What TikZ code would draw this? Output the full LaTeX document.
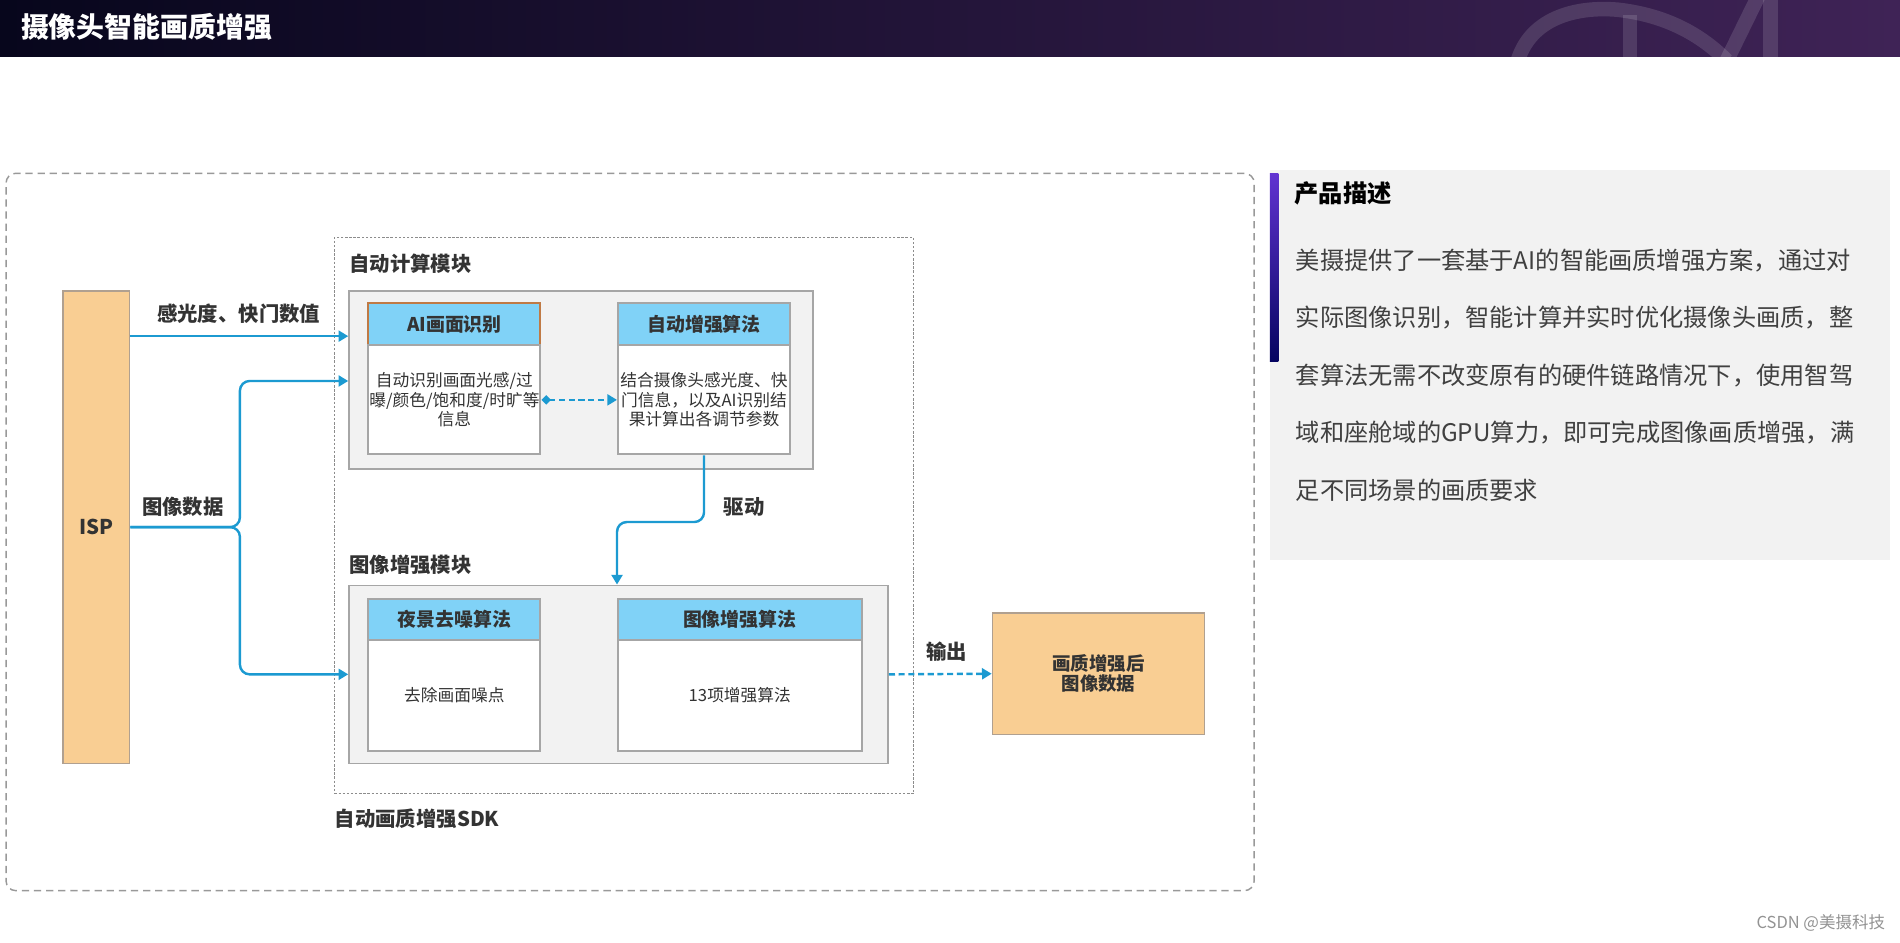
\documentclass[tikz,border=0pt]{standalone}
\usepackage{fontspec}
\setmainfont{Noto Sans CJK SC}
\usetikzlibrary{fit,arrows.meta}
\definecolor{hdrL}{HTML}{07061C}
\definecolor{hdrR}{HTML}{3F2356}
\definecolor{orng}{HTML}{F9CE93}
\definecolor{orngB}{HTML}{B0A090}
\definecolor{hblue}{HTML}{80D2F7}
\definecolor{lblue}{HTML}{1C9AD1}
\definecolor{gbox}{HTML}{F2F2F2}
\definecolor{gline}{HTML}{A6A6A6}
\definecolor{txt}{HTML}{333333}
\definecolor{ptxt}{HTML}{404040}
\definecolor{hborder}{HTML}{C07A45}
\tikzset{
  orangebox/.style={fit={#1}, inner sep=0pt, fill=orng, draw=orngB, line width=0.6pt},
  graybox/.style={fit={#1}, inner sep=0pt, fill=gbox, draw=gline, line width=0.6pt},
  headbox/.style={fit={#1}, inner sep=0pt, fill=hblue, draw=gline, line width=0.8pt},
  bodybox/.style={fit={#1}, inner sep=0pt, fill=white, draw=gline, line width=0.8pt},
  headtxt/.style={font=\fontsize{7.8}{9}\selectfont\bfseries, text=txt, inner sep=0pt},
  bodytxt/.style={font=\fontsize{6.9}{8}\selectfont, text=txt, align=center, inner sep=0pt},
  lbl/.style={font=\fontsize{8.4}{10}\selectfont\bfseries, text=txt, inner sep=0pt},
  arr/.style={draw=lblue, line width=1pt, -{Triangle[length=4pt,width=4.5pt]}},
  darr/.style={draw=lblue, line width=1pt, dash pattern=on 2.5pt off 1.5pt, -{Triangle[length=4pt,width=4.5pt]}},
  deco/.style={white, opacity=0.13, line width=6pt},
}
\begin{document}
\begin{tikzpicture}[x=0.5pt,y=-0.5pt]
\useasboundingbox (0,0) rectangle (1568,778.2);
\fill[white] (0,0) rectangle (1568,778.2);
% header
\shade[left color=hdrL, right color=hdrR] (0,0) rectangle (1568,47);
\begin{scope}
\clip (0,0) rectangle (1568,47);
\draw[deco] (1252,52) .. controls (1262,15) and (1300,5) .. (1335,8) .. controls (1370,12) and (1400,25) .. (1425,50);
\draw[deco] (1345,12) -- (1345,52);
\draw[deco] (1425,50) -- (1452,-5);
\draw[deco] (1461,-5) -- (1461,52);
\end{scope}
\node[anchor=west, text=white, font=\fontsize{11.5}{13}\selectfont\bfseries, inner sep=0pt] (title) at (17,22) {摄像头智能画质增强};
% outer dashed frame
\node[fit={(5,143)(1035,735)}, inner sep=0pt, draw=gray!80, line width=0.6pt, dash pattern=on 3pt off 2pt, rounded corners=4pt] (outer) {};
% right panel
\node[fit={(1048,140)(1560,462)}, inner sep=0pt, fill=gbox] (panel) {};
\shade[top color=blue!55!violet!80, bottom color=hdrL!70!blue] (1048,143) rectangle (1055,298);
\node[anchor=west, font=\fontsize{10}{12}\selectfont\bfseries, text=black, inner sep=0pt] (ptitle) at (1068,160) {产品描述};
\node[anchor=north west, align=left, font=\fontsize{10}{23.7}\selectfont, text=ptxt, inner sep=0pt] (ptext) at (1069,205) {美摄提供了一套基于AI的智能画质增强方案，通过对\\实际图像识别，智能计算并实时优化摄像头画质，整\\套算法无需不改变原有的硬件链路情况下，使用智驾\\域和座舱域的GPU算力，即可完成图像画质增强，满\\足不同场景的画质要求};
% SDK dotted frame
\node[fit={(276,196)(754,655)}, inner sep=0pt, draw=gray!90, line width=0.5pt, dash pattern=on 1pt off 0.7pt] (sdk) {};
\node[lbl, anchor=west] (sdklbl) at (276,676) {自动画质增强SDK};
% ISP
\node[orangebox={(52,240)(107,630)}] (isp) {};
\node[lbl] (ispt) at (isp.center) {ISP};
% auto compute module
\node[lbl, anchor=west] (calclbl) at (288,218) {自动计算模块};
\node[graybox={(288,240)(671,387)}] (calc) {};
\node[headbox={(304,250)(446,285)}, draw=hborder] (aiH) {};
\node[headtxt] (aiHt) at (aiH.center) {AI画面识别};
\node[bodybox={(304,285)(446,375)}] (aiB) {};
\node[bodytxt] (aiBt) at (aiB.center) {自动识别画面光感/过\\曝/颜色/饱和度/时旷等\\信息};
\node[headbox={(510,250)(652,285)}] (aeH) {};
\node[headtxt] (aeHt) at (aeH.center) {自动增强算法};
\node[bodybox={(510,285)(652,375)}] (aeB) {};
\node[bodytxt] (aeBt) at (aeB.center) {结合摄像头感光度、快\\门信息，以及AI识别结\\果计算出各调节参数};
% image enhancement module
\node[lbl, anchor=west] (enhlbl) at (288,466) {图像增强模块};
\node[graybox={(288,483)(733,630)}] (enh) {};
\node[headbox={(304,494)(446,528)}] (nrH) {};
\node[headtxt] (nrHt) at (nrH.center) {夜景去噪算法};
\node[bodybox={(304,528)(446,620)}] (nrB) {};
\node[bodytxt] (nrBt) at (nrB.center) {去除画面噪点};
\node[headbox={(510,494)(711,528)}] (ieH) {};
\node[headtxt] (ieHt) at (ieH.center) {图像增强算法};
\node[bodybox={(510,528)(711,620)}] (ieB) {};
\node[bodytxt] (ieBt) at (ieB.center) {13项增强算法};
% output
\node[orangebox={(819,506)(994,606)}] (out) {};
\node[font=\fontsize{7.6}{8.3}\selectfont\bfseries, text=txt, align=center, inner sep=0pt] (outt) at (out.center) {画质增强后\\图像数据};
% connectors
\coordinate (j) at (198,435);
\coordinate (in1) at ([yshift=-19pt]calc.north west);
\coordinate (in2) at ([yshift=-37.5pt]calc.north west);
\draw[arr] (isp.east |- in1) -- (in1);
\node[lbl] (l1) at (197,259) {感光度、快门数值};
\draw[arr, rounded corners=4pt] (isp.east) -- (j) -- (j |- in2) -- (in2);
\draw[arr, rounded corners=4pt] (isp.east) -- (j) -- (j |- enh.west) -- (enh.west);
\node[lbl] (l2) at (151,418) {图像数据};
\draw[darr, {Diamond[length=4pt,width=4pt]}-{Triangle[length=4pt,width=4.5pt]}] (aiB.east) -- (aeB.west);
\draw[arr, rounded corners=4pt] (aeB.south) -- ++(0,55) -| (aeB.west |- enh.north);
\node[lbl] (l3) at (614,418) {驱动};
\draw[darr] (enh.east) -- (out.west);
\node[lbl] (l4) at (781,538) {输出};
% watermark
\node[anchor=east, font=\fontsize{6.8}{8}\selectfont, text=gray!85, inner sep=0pt] (wm) at (1556,762) {CSDN @美摄科技};
\end{tikzpicture}
\end{document}
